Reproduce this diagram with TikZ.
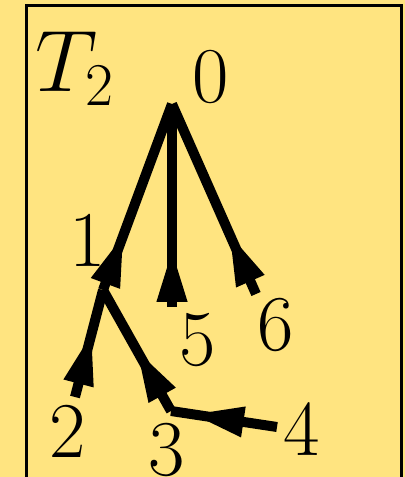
\documentclass[tikz,border=0pt]{standalone}
\usetikzlibrary{arrows.meta,decorations.markings}
\definecolor{pad}{HTML}{FFE480}

\begin{document}
\begin{tikzpicture}[every node/.style={font=\fontsize{22.5}{27}\selectfont, inner sep=0pt}]
\tikzset{tedge/.style={line width=1mm},
  midtip/.style={postaction={decorate}, decoration={markings,
    mark=at position #1 with {\arrow{Triangle[length=5.3mm,width=2.8mm]}}}}}
% Background and frame
\useasboundingbox (0,0) rectangle (4.05,-4.77);
\fill[pad] (0,0) rectangle (4.05,-4.77);
\draw[line width=0.3mm] (0.26,-0.055) rectangle (4.01,-4.78);

% Vertices
\coordinate (v0) at (1.72,-1.04);
\coordinate (v1) at (1.03,-2.90);
\coordinate (v2) at (0.75,-3.97);
\coordinate (v3) at (1.71,-4.11);
\coordinate (v4) at (2.77,-4.27);
\coordinate (v5) at (1.72,-3.07);
\coordinate (v6) at (2.56,-2.94);

% Labels
\node[anchor=base west, font=\fontsize{25.5}{30}\selectfont] (title) at (0.35,-0.92) {$T_2$};
\node[anchor=base] (l0) at (2.11,-1.03) {0};
\node[anchor=base] (l1) at (0.88,-2.67) {1};
\node[anchor=base] (l2) at (0.68,-4.57) {2};
\node[anchor=base] (l3) at (1.67,-4.75) {3};
\node[anchor=base] (l4) at (3.02,-4.55) {4};
\node[anchor=base] (l5) at (1.98,-3.65) {5};
\node[anchor=base] (l6) at (2.76,-3.50) {6};

% Edges, child to parent
\draw[tedge, midtip=6mm] (v1) -- (v0);
\draw[tedge, midtip=5.8mm] (v5) -- (v0);
\draw[tedge, midtip=6.7mm] (v6) -- (v0);
\draw[tedge, midtip=6.7mm] (v2) -- (v1);
\draw[tedge, midtip=7.1mm] (v3) -- (v1);
\draw[tedge, midtip=8.7mm] (v4) -- (v3);
\end{tikzpicture}
\end{document}
